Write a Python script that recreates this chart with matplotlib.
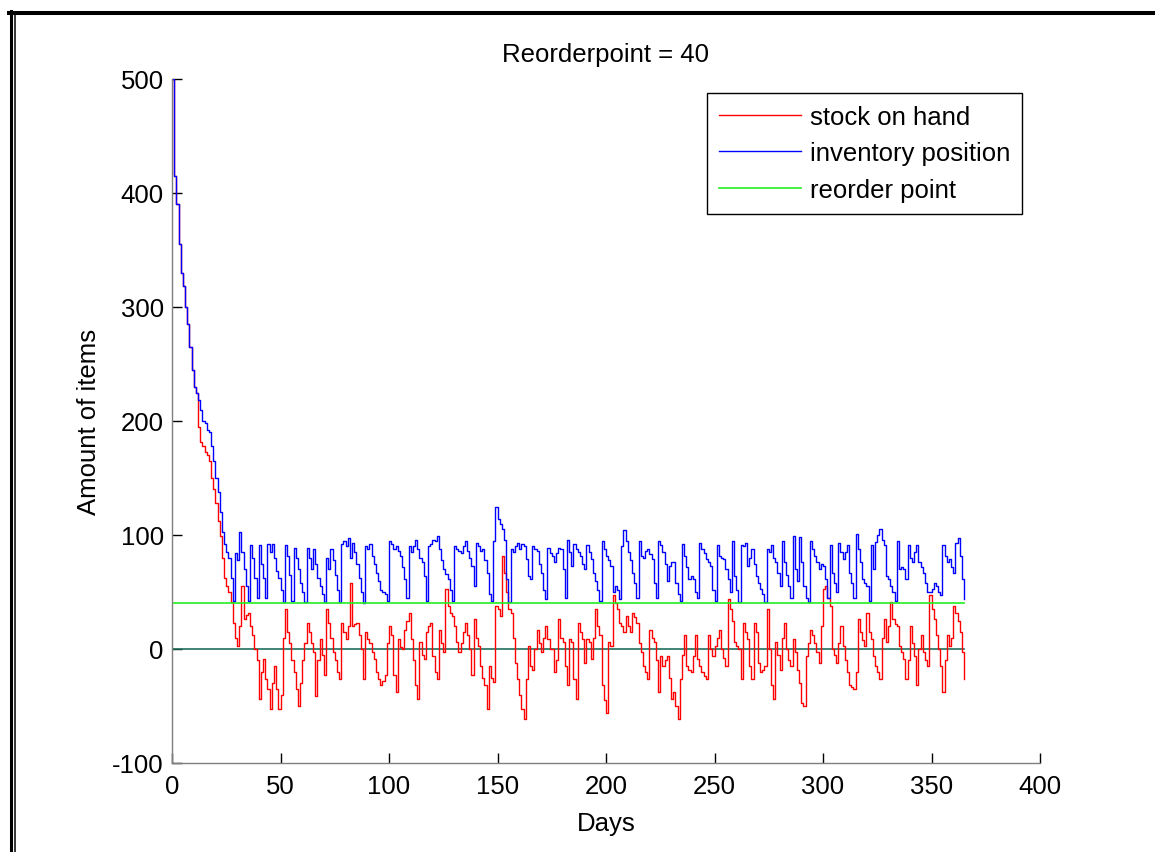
import numpy as np
import matplotlib.pyplot as plt
from matplotlib.lines import Line2D

plt.rcParams['font.family'] = ['Liberation Sans', 'DejaVu Sans']
plt.rcParams['axes.unicode_minus'] = False

# --- dados (um valor por dia, dias 0..365) ---
inventory_position = [
    500, 415, 390, 355, 330, 318, 300, 285, 265, 245,
    230, 225, 218, 210, 200, 198, 192, 190, 178, 165,
    150, 138, 120, 103, 92, 85, 80, 62, 42, 84,
    78, 103, 85, 70, 55, 42, 91, 80, 62, 45,
    91, 75, 62, 45, 92, 85, 92, 80, 68, 62,
    52, 41, 91, 82, 65, 42, 89, 80, 70, 58,
    50, 41, 89, 80, 70, 88, 75, 62, 55, 48,
    41, 80, 70, 88, 78, 65, 52, 41, 92, 95,
    90, 97, 80, 93, 85, 75, 62, 50, 40, 90,
    88, 92, 82, 75, 67, 60, 52, 50, 48, 42,
    95, 92, 88, 90, 86, 82, 72, 61, 45, 90,
    85, 90, 96, 88, 80, 76, 64, 42, 90, 92,
    96, 95, 99, 88, 78, 70, 66, 61, 52, 42,
    90, 88, 86, 84, 90, 95, 86, 80, 73, 55,
    93, 90, 86, 88, 78, 67, 48, 42, 95, 125,
    114, 110, 105, 96, 61, 41, 88, 85, 90, 93,
    88, 92, 90, 79, 64, 61, 90, 88, 86, 75,
    67, 52, 44, 89, 84, 82, 76, 84, 89, 88,
    70, 45, 96, 85, 73, 92, 88, 85, 82, 75,
    70, 91, 85, 79, 67, 60, 52, 42, 95, 88,
    82, 78, 73, 50, 55, 52, 44, 90, 104, 95,
    85, 78, 67, 58, 45, 95, 82, 80, 86, 88,
    83, 79, 58, 45, 95, 91, 85, 75, 60, 73,
    76, 76, 58, 48, 42, 92, 82, 72, 61, 64,
    61, 50, 45, 93, 88, 84, 79, 76, 73, 52,
    42, 91, 82, 80, 79, 70, 61, 50, 95, 64,
    52, 41, 91, 90, 93, 73, 80, 88, 75, 64,
    58, 53, 48, 41, 88, 85, 91, 80, 76, 67,
    55, 95, 76, 65, 55, 45, 99, 70, 60, 98,
    76, 55, 45, 41, 95, 88, 82, 76, 70, 75,
    73, 61, 45, 91, 67, 58, 50, 93, 85, 79,
    85, 91, 67, 58, 45, 101, 88, 76, 61, 58,
    55, 42, 91, 70, 94, 100, 105, 96, 91, 64,
    61, 55, 50, 42, 95, 70, 72, 70, 61, 91,
    80, 76, 85, 91, 76, 72, 67, 58, 50, 50,
    53, 58, 55, 50, 47, 91, 82, 76, 79, 72,
    67, 93, 97, 82, 61, 44,
]

stock_on_hand = [
    500, 415, 390, 355, 330, 318, 300, 285, 265, 245,
    230, 225, 195, 182, 178, 173, 170, 165, 150, 140,
    128, 112, 99, 80, 62, 55, 50, 41, 23, 10,
    3, 20, 55, 26, 30, 32, 20, 12, 0, -10,
    -44, -20, -9, -26, -35, -53, -30, -15, -35, -53,
    -40, 10, 35, 15, 5, -10, -20, -35, -50, -30,
    -10, 5, 23, 15, 5, -3, -41, -10, 9, -5,
    -23, 35, 23, 10, -3, -10, -20, -26, 23, 15,
    9, 20, 58, 20, 22, 23, 12, 0, -26, 15,
    9, 5, -3, -9, -20, -26, -32, -28, -23, 5,
    20, 12, -23, -38, 9, 2, 0, 17, 25, 32,
    9, -10, -32, -44, 6, -5, -9, 15, 20, 23,
    -6, -20, -26, 17, 5, -3, 53, 38, 32, 29,
    20, 6, -3, 5, 15, 23, 12, 0, -23, 26,
    10, 3, -15, -25, -32, -53, -15, -25, -29, 38,
    35, 29, 82, 67, 50, 35, 32, 10, -12, -26,
    -40, -53, -61, -26, 3, -15, -18, 0, 17, 5,
    -3, 10, 20, 9, 0, 0, -20, -10, 26, 10,
    6, -15, -32, 9, 6, -26, -44, 23, 15, 9,
    -12, 9, 6, -9, 10, 35, 20, 12, -32, -45,
    -56, 6, 3, 47, 40, 35, 23, 20, 15, 29,
    20, 15, 32, 28, 23, 5, -3, -15, -20, -26,
    17, 10, 6, -10, -38, -6, -15, -10, -6, -25,
    -44, -38, -50, -61, -26, -5, 12, -15, -18, -20,
    -6, 12, -9, -15, -20, -24, -26, 12, 0, -6,
    3, 10, 17, 0, -8, -15, 44, 35, 25, 6,
    3, 0, -26, 23, 15, 9, -15, -26, 23, 15,
    -12, -20, -18, -15, 35, 0, -32, -44, 6, -5,
    -18, 10, 23, 0, -10, -15, 9, -3, -18, -30,
    -47, -50, -6, 5, 17, 12, 5, -3, -12, 20,
    53, 55, 45, 38, 0, -5, -12, 5, 20, 3,
    -10, -20, -32, -33, -35, -20, 26, 15, 8, 3,
    32, 15, 9, -6, -15, -20, -26, 10, 26, 6,
    20, 41, 26, 22, 20, 3, -3, -9, -26, -10,
    20, 5, -6, -32, 0, 12, -3, -10, -15, 47,
    35, 26, 12, 0, -15, -38, -10, 12, 3, 10,
    38, 32, 25, 15, -3, -26,
]

reorder_point = 40
days = np.arange(len(stock_on_hand))
x_ticks = [0, 50, 100, 150, 200, 250, 300, 350, 400]
y_ticks = [-100, 0, 100, 200, 300, 400, 500]

W, H = 1155, 853
fig = plt.figure(figsize=(W / 100, H / 100), dpi=100)
ax = fig.add_axes([172 / W, 1 - 764 / H, 868 / W, 684 / H])

# linha do zero e ponto de encomenda
ax.plot(days, np.zeros(len(days)), color='#1f6e5c', lw=1.2)
h1, = ax.plot(days, stock_on_hand, color='#ff0000', lw=1, drawstyle='steps-post',
              label='stock on hand')
h2, = ax.plot(days, inventory_position, color='#0000ff', lw=1, drawstyle='steps-post',
              label='inventory position')
h3, = ax.plot(days, np.full(len(days), reorder_point), color='#22ee22', lw=1.2,
              label='reorder point')

ax.set_xlim(0, 400)
ax.set_ylim(-100, 500)
ax.set_xticks(x_ticks)
ax.set_yticks(y_ticks)

for s in ['top', 'right']:
    ax.spines[s].set_visible(False)
for s in ['left', 'bottom']:
    ax.spines[s].set_color('#7f7f7f')
    ax.spines[s].set_linewidth(1)
ax.tick_params(direction='in', length=7, width=1, color='black', labelsize=18.5)
ax.tick_params(axis='y', pad=6)
ax.tick_params(axis='x', pad=8)

ax.set_title('Reorderpoint = 40', fontsize=18.5, pad=13)
ax.set_xlabel('Days', fontsize=18.5, labelpad=9)
ax.set_ylabel('Amount of items', fontsize=18.5, labelpad=8)

leg = ax.legend(handles=[h1, h2, h3], loc='upper right', bbox_to_anchor=(0.979, 0.9795),
                borderaxespad=0, fontsize=18.5, frameon=True, fancybox=False,
                handlelength=3.2, handletextpad=0.35, labelspacing=0.5,
                borderpad=0.45, framealpha=1)
leg.get_frame().set_edgecolor('black')
leg.get_frame().set_linewidth(1)

# moldura dupla da figura (canto superior esquerdo)
def px(x, y):
    return x / W, 1 - y / H

fig.add_artist(Line2D(*zip(px(9, 14), px(W, 14)), color='black', lw=2.9,
                      transform=fig.transFigure))
fig.add_artist(Line2D(*zip(px(10.5, 12), px(10.5, H)), color='black', lw=2.2,
                      transform=fig.transFigure))
fig.add_artist(Line2D(*zip(px(14.5, 16), px(14.5, H)), color='black', lw=1.1,
                      transform=fig.transFigure))

plt.savefig('out.png', dpi=100, facecolor='white')
